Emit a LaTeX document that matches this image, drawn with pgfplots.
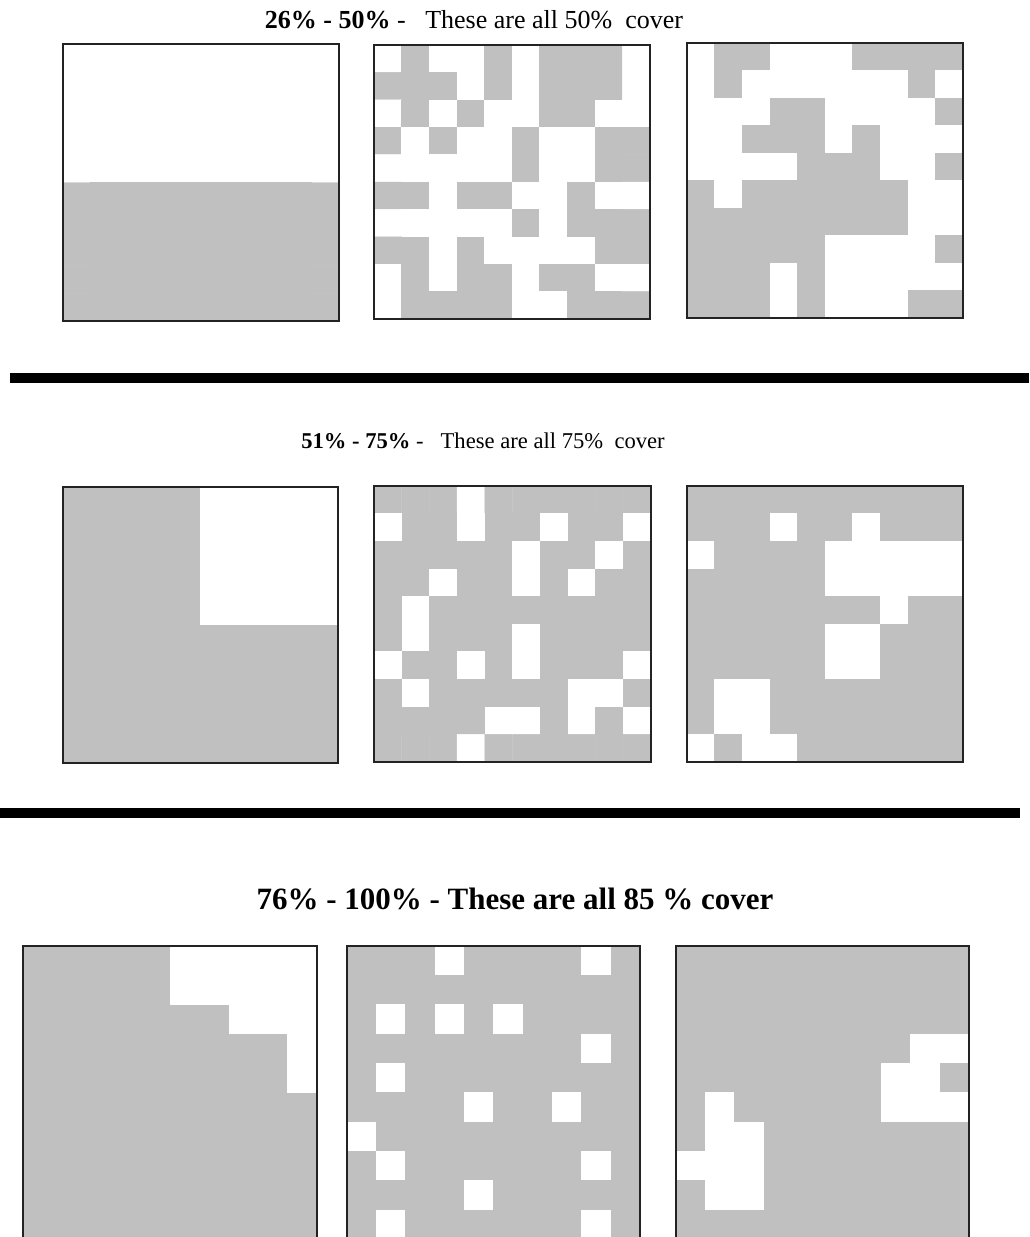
\documentclass[border=0pt]{standalone}
\usepackage{fontspec}
\setmainfont{Liberation Serif}
\usepackage{pgfplots}
\pgfplotsset{compat=1.18}
\definecolor{cellgray}{RGB}{192,192,192}
\definecolor{boxline}{RGB}{35,35,35}

% one 10x10 cover grid: x = column, y = row (row 0 on top), meta 1 = grey cell
\pgfplotsset{
  cover/.style={
    scale only axis,
    anchor=north west,
    xmin=-0.5, xmax=9.5, ymin=-0.5, ymax=9.5,
    y dir=reverse,
    ticks=none,
    axis line style={boxline, line width=2.2pt},
    axis on top,
    colormap={gw}{color=(white) color=(cellgray)},
    point meta min=0, point meta max=1,
  },
  cells/.style={matrix plot*, mesh/cols=10, point meta=explicit, shader=flat corner},
}

\begin{document}
\begin{tikzpicture}
\useasboundingbox (0,0) rectangle (1029pt,-1237pt);

% ---------------- titles and separators ----------------
\node[anchor=base, inner sep=0, font=\fontsize{26}{30}\selectfont] at (474pt,-28pt)
  {{\bfseries 26\% - 50\%} -~~~These are all 50\%~~cover};
\node[anchor=base, inner sep=0, font=\fontsize{22.6}{27}\selectfont] at (483pt,-448pt)
  {{\bfseries 51\% - 75\%} -~~~These are all 75\%~~cover};
\node[anchor=base, inner sep=0, font=\fontsize{31}{36}\selectfont\bfseries] at (515pt,-909pt)
  {76\% - 100\% - These are all 85 \% cover};
\fill[black] (10pt,-373pt) rectangle (1029pt,-383pt);
\fill[black] (0pt,-808pt) rectangle (1020pt,-818pt);

% ---------------- row 1: 26% - 50% ----------------
\begin{axis}[cover, at={(63pt,-44pt)}, width=276pt, height=277pt]
\addplot[cells] coordinates {
(0,0)[0] (1,0)[0] (2,0)[0] (3,0)[0] (4,0)[0] (5,0)[0] (6,0)[0] (7,0)[0] (8,0)[0] (9,0)[0]
(0,1)[0] (1,1)[0] (2,1)[0] (3,1)[0] (4,1)[0] (5,1)[0] (6,1)[0] (7,1)[0] (8,1)[0] (9,1)[0]
(0,2)[0] (1,2)[0] (2,2)[0] (3,2)[0] (4,2)[0] (5,2)[0] (6,2)[0] (7,2)[0] (8,2)[0] (9,2)[0]
(0,3)[0] (1,3)[0] (2,3)[0] (3,3)[0] (4,3)[0] (5,3)[0] (6,3)[0] (7,3)[0] (8,3)[0] (9,3)[0]
(0,4)[0] (1,4)[0] (2,4)[0] (3,4)[0] (4,4)[0] (5,4)[0] (6,4)[0] (7,4)[0] (8,4)[0] (9,4)[0]
(0,5)[1] (1,5)[1] (2,5)[1] (3,5)[1] (4,5)[1] (5,5)[1] (6,5)[1] (7,5)[1] (8,5)[1] (9,5)[1]
(0,6)[1] (1,6)[1] (2,6)[1] (3,6)[1] (4,6)[1] (5,6)[1] (6,6)[1] (7,6)[1] (8,6)[1] (9,6)[1]
(0,7)[1] (1,7)[1] (2,7)[1] (3,7)[1] (4,7)[1] (5,7)[1] (6,7)[1] (7,7)[1] (8,7)[1] (9,7)[1]
(0,8)[1] (1,8)[1] (2,8)[1] (3,8)[1] (4,8)[1] (5,8)[1] (6,8)[1] (7,8)[1] (8,8)[1] (9,8)[1]
(0,9)[1] (1,9)[1] (2,9)[1] (3,9)[1] (4,9)[1] (5,9)[1] (6,9)[1] (7,9)[1] (8,9)[1] (9,9)[1]
};
\end{axis}

\begin{axis}[cover, at={(374pt,-45pt)}, width=276pt, height=274pt]
\addplot[cells] coordinates {
(0,0)[0] (1,0)[1] (2,0)[0] (3,0)[0] (4,0)[1] (5,0)[0] (6,0)[1] (7,0)[1] (8,0)[1] (9,0)[0]
(0,1)[1] (1,1)[1] (2,1)[1] (3,1)[0] (4,1)[1] (5,1)[0] (6,1)[1] (7,1)[1] (8,1)[1] (9,1)[0]
(0,2)[0] (1,2)[1] (2,2)[0] (3,2)[1] (4,2)[0] (5,2)[0] (6,2)[1] (7,2)[1] (8,2)[0] (9,2)[0]
(0,3)[1] (1,3)[0] (2,3)[1] (3,3)[0] (4,3)[0] (5,3)[1] (6,3)[0] (7,3)[0] (8,3)[1] (9,3)[1]
(0,4)[0] (1,4)[0] (2,4)[0] (3,4)[0] (4,4)[0] (5,4)[1] (6,4)[0] (7,4)[0] (8,4)[1] (9,4)[1]
(0,5)[1] (1,5)[1] (2,5)[0] (3,5)[1] (4,5)[1] (5,5)[0] (6,5)[0] (7,5)[1] (8,5)[0] (9,5)[0]
(0,6)[0] (1,6)[0] (2,6)[0] (3,6)[0] (4,6)[0] (5,6)[1] (6,6)[0] (7,6)[1] (8,6)[1] (9,6)[1]
(0,7)[1] (1,7)[1] (2,7)[0] (3,7)[1] (4,7)[0] (5,7)[0] (6,7)[0] (7,7)[0] (8,7)[1] (9,7)[1]
(0,8)[0] (1,8)[1] (2,8)[0] (3,8)[1] (4,8)[1] (5,8)[0] (6,8)[1] (7,8)[1] (8,8)[0] (9,8)[0]
(0,9)[0] (1,9)[1] (2,9)[1] (3,9)[1] (4,9)[1] (5,9)[0] (6,9)[0] (7,9)[1] (8,9)[1] (9,9)[1]
};
\end{axis}

\begin{axis}[cover, at={(687pt,-43pt)}, width=276pt, height=275pt]
\addplot[cells] coordinates {
(0,0)[0] (1,0)[1] (2,0)[1] (3,0)[0] (4,0)[0] (5,0)[0] (6,0)[1] (7,0)[1] (8,0)[1] (9,0)[1]
(0,1)[0] (1,1)[1] (2,1)[0] (3,1)[0] (4,1)[0] (5,1)[0] (6,1)[0] (7,1)[0] (8,1)[1] (9,1)[0]
(0,2)[0] (1,2)[0] (2,2)[0] (3,2)[1] (4,2)[1] (5,2)[0] (6,2)[0] (7,2)[0] (8,2)[0] (9,2)[1]
(0,3)[0] (1,3)[0] (2,3)[1] (3,3)[1] (4,3)[1] (5,3)[0] (6,3)[1] (7,3)[0] (8,3)[0] (9,3)[0]
(0,4)[0] (1,4)[0] (2,4)[0] (3,4)[0] (4,4)[1] (5,4)[1] (6,4)[1] (7,4)[0] (8,4)[0] (9,4)[1]
(0,5)[1] (1,5)[0] (2,5)[1] (3,5)[1] (4,5)[1] (5,5)[1] (6,5)[1] (7,5)[1] (8,5)[0] (9,5)[0]
(0,6)[1] (1,6)[1] (2,6)[1] (3,6)[1] (4,6)[1] (5,6)[1] (6,6)[1] (7,6)[1] (8,6)[0] (9,6)[0]
(0,7)[1] (1,7)[1] (2,7)[1] (3,7)[1] (4,7)[1] (5,7)[0] (6,7)[0] (7,7)[0] (8,7)[0] (9,7)[1]
(0,8)[1] (1,8)[1] (2,8)[1] (3,8)[0] (4,8)[1] (5,8)[0] (6,8)[0] (7,8)[0] (8,8)[0] (9,8)[0]
(0,9)[1] (1,9)[1] (2,9)[1] (3,9)[0] (4,9)[1] (5,9)[0] (6,9)[0] (7,9)[0] (8,9)[1] (9,9)[1]
};
\end{axis}

% ---------------- row 2: 51% - 75% ----------------
\begin{axis}[cover, at={(63pt,-487pt)}, width=275pt, height=276pt]
\addplot[cells] coordinates {
(0,0)[1] (1,0)[1] (2,0)[1] (3,0)[1] (4,0)[1] (5,0)[0] (6,0)[0] (7,0)[0] (8,0)[0] (9,0)[0]
(0,1)[1] (1,1)[1] (2,1)[1] (3,1)[1] (4,1)[1] (5,1)[0] (6,1)[0] (7,1)[0] (8,1)[0] (9,1)[0]
(0,2)[1] (1,2)[1] (2,2)[1] (3,2)[1] (4,2)[1] (5,2)[0] (6,2)[0] (7,2)[0] (8,2)[0] (9,2)[0]
(0,3)[1] (1,3)[1] (2,3)[1] (3,3)[1] (4,3)[1] (5,3)[0] (6,3)[0] (7,3)[0] (8,3)[0] (9,3)[0]
(0,4)[1] (1,4)[1] (2,4)[1] (3,4)[1] (4,4)[1] (5,4)[0] (6,4)[0] (7,4)[0] (8,4)[0] (9,4)[0]
(0,5)[1] (1,5)[1] (2,5)[1] (3,5)[1] (4,5)[1] (5,5)[1] (6,5)[1] (7,5)[1] (8,5)[1] (9,5)[1]
(0,6)[1] (1,6)[1] (2,6)[1] (3,6)[1] (4,6)[1] (5,6)[1] (6,6)[1] (7,6)[1] (8,6)[1] (9,6)[1]
(0,7)[1] (1,7)[1] (2,7)[1] (3,7)[1] (4,7)[1] (5,7)[1] (6,7)[1] (7,7)[1] (8,7)[1] (9,7)[1]
(0,8)[1] (1,8)[1] (2,8)[1] (3,8)[1] (4,8)[1] (5,8)[1] (6,8)[1] (7,8)[1] (8,8)[1] (9,8)[1]
(0,9)[1] (1,9)[1] (2,9)[1] (3,9)[1] (4,9)[1] (5,9)[1] (6,9)[1] (7,9)[1] (8,9)[1] (9,9)[1]
};
\end{axis}

\begin{axis}[cover, at={(374pt,-486pt)}, width=277pt, height=276pt]
\addplot[cells] coordinates {
(0,0)[1] (1,0)[1] (2,0)[1] (3,0)[0] (4,0)[1] (5,0)[1] (6,0)[1] (7,0)[1] (8,0)[1] (9,0)[1]
(0,1)[0] (1,1)[1] (2,1)[1] (3,1)[0] (4,1)[1] (5,1)[1] (6,1)[0] (7,1)[1] (8,1)[1] (9,1)[0]
(0,2)[1] (1,2)[1] (2,2)[1] (3,2)[1] (4,2)[1] (5,2)[0] (6,2)[1] (7,2)[1] (8,2)[0] (9,2)[1]
(0,3)[1] (1,3)[1] (2,3)[0] (3,3)[1] (4,3)[1] (5,3)[0] (6,3)[1] (7,3)[0] (8,3)[1] (9,3)[1]
(0,4)[1] (1,4)[0] (2,4)[1] (3,4)[1] (4,4)[1] (5,4)[1] (6,4)[1] (7,4)[1] (8,4)[1] (9,4)[1]
(0,5)[1] (1,5)[0] (2,5)[1] (3,5)[1] (4,5)[1] (5,5)[0] (6,5)[1] (7,5)[1] (8,5)[1] (9,5)[1]
(0,6)[0] (1,6)[1] (2,6)[1] (3,6)[0] (4,6)[1] (5,6)[0] (6,6)[1] (7,6)[1] (8,6)[1] (9,6)[0]
(0,7)[1] (1,7)[0] (2,7)[1] (3,7)[1] (4,7)[1] (5,7)[1] (6,7)[1] (7,7)[0] (8,7)[0] (9,7)[1]
(0,8)[1] (1,8)[1] (2,8)[1] (3,8)[1] (4,8)[0] (5,8)[0] (6,8)[1] (7,8)[0] (8,8)[1] (9,8)[0]
(0,9)[1] (1,9)[1] (2,9)[1] (3,9)[0] (4,9)[1] (5,9)[1] (6,9)[1] (7,9)[1] (8,9)[1] (9,9)[1]
};
\end{axis}

\begin{axis}[cover, at={(687pt,-486pt)}, width=276pt, height=276pt]
\addplot[cells] coordinates {
(0,0)[1] (1,0)[1] (2,0)[1] (3,0)[1] (4,0)[1] (5,0)[1] (6,0)[1] (7,0)[1] (8,0)[1] (9,0)[1]
(0,1)[1] (1,1)[1] (2,1)[1] (3,1)[0] (4,1)[1] (5,1)[1] (6,1)[0] (7,1)[1] (8,1)[1] (9,1)[1]
(0,2)[0] (1,2)[1] (2,2)[1] (3,2)[1] (4,2)[1] (5,2)[0] (6,2)[0] (7,2)[0] (8,2)[0] (9,2)[0]
(0,3)[1] (1,3)[1] (2,3)[1] (3,3)[1] (4,3)[1] (5,3)[0] (6,3)[0] (7,3)[0] (8,3)[0] (9,3)[0]
(0,4)[1] (1,4)[1] (2,4)[1] (3,4)[1] (4,4)[1] (5,4)[1] (6,4)[1] (7,4)[0] (8,4)[1] (9,4)[1]
(0,5)[1] (1,5)[1] (2,5)[1] (3,5)[1] (4,5)[1] (5,5)[0] (6,5)[0] (7,5)[1] (8,5)[1] (9,5)[1]
(0,6)[1] (1,6)[1] (2,6)[1] (3,6)[1] (4,6)[1] (5,6)[0] (6,6)[0] (7,6)[1] (8,6)[1] (9,6)[1]
(0,7)[1] (1,7)[0] (2,7)[0] (3,7)[1] (4,7)[1] (5,7)[1] (6,7)[1] (7,7)[1] (8,7)[1] (9,7)[1]
(0,8)[1] (1,8)[0] (2,8)[0] (3,8)[1] (4,8)[1] (5,8)[1] (6,8)[1] (7,8)[1] (8,8)[1] (9,8)[1]
(0,9)[0] (1,9)[1] (2,9)[0] (3,9)[0] (4,9)[1] (5,9)[1] (6,9)[1] (7,9)[1] (8,9)[1] (9,9)[1]
};
\end{axis}

% ---------------- row 3: 76% - 100% ----------------
\begin{axis}[cover, at={(23pt,-946pt)}, width=294pt, height=294pt]
\addplot[cells] coordinates {
(0,0)[1] (1,0)[1] (2,0)[1] (3,0)[1] (4,0)[1] (5,0)[0] (6,0)[0] (7,0)[0] (8,0)[0] (9,0)[0]
(0,1)[1] (1,1)[1] (2,1)[1] (3,1)[1] (4,1)[1] (5,1)[0] (6,1)[0] (7,1)[0] (8,1)[0] (9,1)[0]
(0,2)[1] (1,2)[1] (2,2)[1] (3,2)[1] (4,2)[1] (5,2)[1] (6,2)[1] (7,2)[0] (8,2)[0] (9,2)[0]
(0,3)[1] (1,3)[1] (2,3)[1] (3,3)[1] (4,3)[1] (5,3)[1] (6,3)[1] (7,3)[1] (8,3)[1] (9,3)[0]
(0,4)[1] (1,4)[1] (2,4)[1] (3,4)[1] (4,4)[1] (5,4)[1] (6,4)[1] (7,4)[1] (8,4)[1] (9,4)[0]
(0,5)[1] (1,5)[1] (2,5)[1] (3,5)[1] (4,5)[1] (5,5)[1] (6,5)[1] (7,5)[1] (8,5)[1] (9,5)[1]
(0,6)[1] (1,6)[1] (2,6)[1] (3,6)[1] (4,6)[1] (5,6)[1] (6,6)[1] (7,6)[1] (8,6)[1] (9,6)[1]
(0,7)[1] (1,7)[1] (2,7)[1] (3,7)[1] (4,7)[1] (5,7)[1] (6,7)[1] (7,7)[1] (8,7)[1] (9,7)[1]
(0,8)[1] (1,8)[1] (2,8)[1] (3,8)[1] (4,8)[1] (5,8)[1] (6,8)[1] (7,8)[1] (8,8)[1] (9,8)[1]
(0,9)[1] (1,9)[1] (2,9)[1] (3,9)[1] (4,9)[1] (5,9)[1] (6,9)[1] (7,9)[1] (8,9)[1] (9,9)[1]
};
\end{axis}

\begin{axis}[cover, at={(347pt,-946pt)}, width=293pt, height=293pt]
\addplot[cells] coordinates {
(0,0)[1] (1,0)[1] (2,0)[1] (3,0)[0] (4,0)[1] (5,0)[1] (6,0)[1] (7,0)[1] (8,0)[0] (9,0)[1]
(0,1)[1] (1,1)[1] (2,1)[1] (3,1)[1] (4,1)[1] (5,1)[1] (6,1)[1] (7,1)[1] (8,1)[1] (9,1)[1]
(0,2)[1] (1,2)[0] (2,2)[1] (3,2)[0] (4,2)[1] (5,2)[0] (6,2)[1] (7,2)[1] (8,2)[1] (9,2)[1]
(0,3)[1] (1,3)[1] (2,3)[1] (3,3)[1] (4,3)[1] (5,3)[1] (6,3)[1] (7,3)[1] (8,3)[0] (9,3)[1]
(0,4)[1] (1,4)[0] (2,4)[1] (3,4)[1] (4,4)[1] (5,4)[1] (6,4)[1] (7,4)[1] (8,4)[1] (9,4)[1]
(0,5)[1] (1,5)[1] (2,5)[1] (3,5)[1] (4,5)[0] (5,5)[1] (6,5)[1] (7,5)[0] (8,5)[1] (9,5)[1]
(0,6)[0] (1,6)[1] (2,6)[1] (3,6)[1] (4,6)[1] (5,6)[1] (6,6)[1] (7,6)[1] (8,6)[1] (9,6)[1]
(0,7)[1] (1,7)[0] (2,7)[1] (3,7)[1] (4,7)[1] (5,7)[1] (6,7)[1] (7,7)[1] (8,7)[0] (9,7)[1]
(0,8)[1] (1,8)[1] (2,8)[1] (3,8)[1] (4,8)[0] (5,8)[1] (6,8)[1] (7,8)[1] (8,8)[1] (9,8)[1]
(0,9)[1] (1,9)[0] (2,9)[1] (3,9)[1] (4,9)[1] (5,9)[1] (6,9)[1] (7,9)[1] (8,9)[0] (9,9)[1]
};
\end{axis}

\begin{axis}[cover, at={(676pt,-946pt)}, width=293pt, height=293pt]
\addplot[cells] coordinates {
(0,0)[1] (1,0)[1] (2,0)[1] (3,0)[1] (4,0)[1] (5,0)[1] (6,0)[1] (7,0)[1] (8,0)[1] (9,0)[1]
(0,1)[1] (1,1)[1] (2,1)[1] (3,1)[1] (4,1)[1] (5,1)[1] (6,1)[1] (7,1)[1] (8,1)[1] (9,1)[1]
(0,2)[1] (1,2)[1] (2,2)[1] (3,2)[1] (4,2)[1] (5,2)[1] (6,2)[1] (7,2)[1] (8,2)[1] (9,2)[1]
(0,3)[1] (1,3)[1] (2,3)[1] (3,3)[1] (4,3)[1] (5,3)[1] (6,3)[1] (7,3)[1] (8,3)[0] (9,3)[0]
(0,4)[1] (1,4)[1] (2,4)[1] (3,4)[1] (4,4)[1] (5,4)[1] (6,4)[1] (7,4)[0] (8,4)[0] (9,4)[1]
(0,5)[1] (1,5)[0] (2,5)[1] (3,5)[1] (4,5)[1] (5,5)[1] (6,5)[1] (7,5)[0] (8,5)[0] (9,5)[0]
(0,6)[1] (1,6)[0] (2,6)[0] (3,6)[1] (4,6)[1] (5,6)[1] (6,6)[1] (7,6)[1] (8,6)[1] (9,6)[1]
(0,7)[0] (1,7)[0] (2,7)[0] (3,7)[1] (4,7)[1] (5,7)[1] (6,7)[1] (7,7)[1] (8,7)[1] (9,7)[1]
(0,8)[1] (1,8)[0] (2,8)[0] (3,8)[1] (4,8)[1] (5,8)[1] (6,8)[1] (7,8)[1] (8,8)[1] (9,8)[1]
(0,9)[1] (1,9)[1] (2,9)[1] (3,9)[1] (4,9)[1] (5,9)[1] (6,9)[1] (7,9)[1] (8,9)[1] (9,9)[1]
};
\end{axis}
\end{tikzpicture}
\end{document}
